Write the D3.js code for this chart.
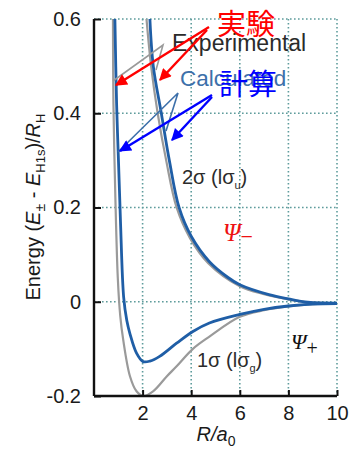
<!DOCTYPE html>
<html>
<head>
<meta charset="utf-8">
<script src="https://cdn.jsdelivr.net/npm/d3@7"></script>
<style>
  body { margin: 0; background: #fff; }
  svg { display: block; font-family: "Liberation Sans", Arial, sans-serif; }
</style>
</head>
<body>
<svg id="chart" width="360" height="454"></svg>
<script>
// values: R in a0, energy in units of R_H
const calcBondR = [0.86, 0.93, 1.0, 1.09, 1.22, 1.35, 1.48, 1.75, 2.02, 2.3, 2.7, 3.4, 4.07, 4.75, 6, 7, 8, 9, 10]
const calcBondE = [0.6, 0.42, 0.31, 0.17, 0.01, -0.04, -0.068, -0.109, -0.127, -0.126, -0.116, -0.088, -0.063, -0.045, -0.027, -0.016, -0.009, -0.005, -0.004]
const expBondR = [0.78, 0.8, 0.88, 0.98, 1.08, 1.2, 1.48, 1.75, 2.02, 2.43, 3.0, 3.4, 4.07, 4.75, 6, 7, 8, 9, 10]
const expBondE = [0.6, 0.42, 0.22, 0.05, -0.03, -0.08, -0.158, -0.19, -0.2, -0.19, -0.158, -0.137, -0.1, -0.074, -0.032, -0.018, -0.01, -0.005, -0.004]
const calcAntiR = [2.3, 2.44, 2.77, 3.1, 3.5, 4.0, 4.75, 5.5, 6, 7.2, 8, 8.8, 10]
const calcAntiE = [0.6, 0.5, 0.4, 0.3, 0.2, 0.139, 0.085, 0.052, 0.036, 0.015, 0.006, -0.001, -0.003]
const expAntiR = [2.16, 2.35, 2.62, 2.97, 3.4, 3.95, 4.7, 6, 7, 8, 8.8, 10]
const expAntiE = [0.6, 0.5, 0.4, 0.3, 0.2, 0.135, 0.082, 0.033, 0.016, 0.005, -0.001, -0.003]

const xTicks = [2, 4, 6, 8, 10]
const yTicks = [-0.2, 0, 0.2, 0.4, 0.6]
const yTickLabels = ['-0.2', '0', '0.2', '0.4', '0.6']

const svg = d3.select('#chart')
const x = d3.scaleLinear().domain([0, 10]).range([94, 337])
const y = d3.scaleLinear().domain([-0.2, 0.6]).range([396, 19])

const BLUE = '#1f5ea6'
const GRAY = '#9a9a9a'
const GRID = '#5e9c9c'

// clip for the curves
svg.append('defs').append('clipPath').attr('id', 'plot-clip')
  .append('rect')
  .attr('x', x(0)).attr('y', y(0.6))
  .attr('width', x(10) - x(0)).attr('height', y(-0.2) - y(0.6) + 2)

// dotted grid
const grid = svg.append('g').attr('class', 'grid')
grid.selectAll('line.v').data(xTicks).join('line')
  .attr('x1', d => x(d)).attr('x2', d => x(d))
  .attr('y1', y(0.6)).attr('y2', y(-0.2))
grid.selectAll('line.h').data([0, 0.2, 0.4, 0.6]).join('line')
  .attr('x1', x(0)).attr('x2', x(10))
  .attr('y1', d => y(d)).attr('y2', d => y(d))
grid.selectAll('line')
  .attr('stroke', GRID).attr('stroke-width', 1.6).attr('stroke-dasharray', '1.6,2.4')

// curves
const line = d3.line().x(d => x(d[0])).y(d => y(d[1])).curve(d3.curveCatmullRom.alpha(0.5))
const curves = svg.append('g').attr('clip-path', 'url(#plot-clip)')
const series = [
  { r: expBondR, e: expBondE, color: GRAY, w: 2.2 },
  { r: expAntiR, e: expAntiE, color: GRAY, w: 2.2 },
  { r: calcBondR, e: calcBondE, color: BLUE, w: 2.8 },
  { r: calcAntiR, e: calcAntiE, color: BLUE, w: 2.8 },
]
curves.selectAll('path').data(series).join('path')
  .attr('d', s => line(s.r.map((r, i) => [r, s.e[i]])))
  .attr('fill', 'none')
  .attr('stroke', s => s.color)
  .attr('stroke-width', s => s.w)
  .attr('stroke-linejoin', 'round')

// axes: ticks point inward
const yAxis = svg.append('g').attr('transform', `translate(${x(0)},0)`)
  .call(d3.axisLeft(y).tickValues(yTicks).tickSize(-7).tickPadding(13)
    .tickFormat((d, i) => yTickLabels[i]))
const xAxis = svg.append('g').attr('transform', `translate(0,${y(-0.2)})`)
  .call(d3.axisBottom(x).tickValues(xTicks).tickSize(-6).tickPadding(10))
for (const ax of [xAxis, yAxis]) {
  ax.select('.domain').attr('stroke', '#111').attr('stroke-width', 2.4)
  ax.selectAll('.tick line').attr('stroke', '#111').attr('stroke-width', 2)
  ax.selectAll('.tick text')
    .attr('fill', '#1a1a1a')
    .attr('font-size', 20)
    .attr('font-family', '"Liberation Sans", Arial, sans-serif')
}
yAxis.select('.domain').attr('d', `M0,${y(0.6)}V${y(-0.2)}`)
xAxis.select('.domain').attr('d', `M${x(0)},0H${x(10)}`)
xAxis.selectAll('.tick text').attr('dy', '0.71em')

// axis titles
const yTitle = svg.append('text')
  .attr('transform', 'translate(40,207) rotate(-90)')
  .attr('text-anchor', 'middle')
  .attr('font-size', 20)
  .attr('fill', '#1a1a1a')
yTitle.append('tspan').text('Energy (')
yTitle.append('tspan').attr('font-style', 'italic').text('E')
yTitle.append('tspan').attr('font-size', 14).attr('dy', 5).text('±')
yTitle.append('tspan').attr('dy', -5).text(' - ')
yTitle.append('tspan').attr('font-style', 'italic').text('E')
yTitle.append('tspan').attr('font-size', 13).attr('dy', 5).text('H1s')
yTitle.append('tspan').attr('dy', -5).text(')/')
yTitle.append('tspan').attr('font-style', 'italic').text('R')
yTitle.append('tspan').attr('font-size', 13).attr('dy', 5).text('H')

const xTitle = svg.append('text')
  .attr('x', 216).attr('y', 441)
  .attr('text-anchor', 'middle')
  .attr('font-size', 20)
  .attr('fill', '#1a1a1a')
xTitle.append('tspan').attr('font-style', 'italic').text('R/a')
xTitle.append('tspan').attr('font-size', 14).attr('dy', 5).text('0')

// leader lines from the legend words
const leaders = svg.append('g').attr('fill', 'none').attr('stroke-width', 1.6)
leaders.append('path').attr('d', 'M113,81L163,45L156,70').attr('stroke', GRAY)
leaders.append('path').attr('d', 'M118,152L178,93L166,131').attr('stroke', '#3d70aa')

// curve labels
const label = (tx, ty, size, color, parts, family) => {
  const t = svg.append('text').attr('x', tx).attr('y', ty)
    .attr('font-size', size).attr('fill', color)
  if (family) t.attr('font-family', family)
  parts.forEach(p => {
    const s = t.append('tspan').text(p.t)
    if (p.size) s.attr('font-size', p.size)
    if (p.dy) s.attr('dy', p.dy)
    if (p.italic) s.attr('font-style', 'italic')
  })
  return t
}
label(172, 51, 23, '#2b2b2b', [{ t: 'Experimental' }])
label(180, 86, 22.5, '#3d70aa', [{ t: 'Calculated' }])
label(182, 184, 20, '#2b2b2b', [{ t: '2σ (lσ' }, { t: 'u', size: 11, dy: 5 }, { t: ')', dy: -5 }])
label(197, 367, 20, '#2b2b2b', [{ t: '1σ (lσ' }, { t: 'g', size: 11, dy: 5 }, { t: ')', dy: -5 }])
label(223, 241, 25, '#ee1111', [{ t: 'Ψ', italic: true }, { t: '−', size: 22, dy: 3 }], '"Liberation Serif", "DejaVu Serif", serif')
label(291, 349, 22, '#111', [{ t: 'Ψ', italic: true }, { t: '+', size: 20, dy: 6 }], '"Liberation Serif", "DejaVu Serif", serif')

// Japanese words
svg.append('text').attr('x', 217).attr('y', 35)
  .attr('font-size', 29).attr('fill', '#ff0000')
  .attr('font-family', '"Noto Sans CJK JP", sans-serif')
  .text('実験')
svg.append('text').attr('x', 219).attr('y', 95)
  .attr('font-size', 29).attr('fill', '#0000ff')
  .attr('font-family', '"Noto Sans CJK JP", sans-serif')
  .text('計算')

// arrows
const defs = svg.select('defs')
const marker = (id, color) => defs.append('marker')
  .attr('id', id).attr('viewBox', '0 0 10 10')
  .attr('refX', 9).attr('refY', 5)
  .attr('markerWidth', 6).attr('markerHeight', 5)
  .attr('markerUnits', 'strokeWidth')
  .attr('orient', 'auto')
  .append('path').attr('d', 'M0,0L10,5L0,10Z').attr('fill', color)
marker('arrow-red', '#ff0000')
marker('arrow-blue', '#0000ff')

const arrows = [
  { from: [209, 27], to: [116, 85], color: '#ff0000', m: 'arrow-red' },
  { from: [207, 30], to: [160, 80], color: '#ff0000', m: 'arrow-red' },
  { from: [212, 95], to: [120, 151], color: '#0000ff', m: 'arrow-blue' },
  { from: [212, 97], to: [172, 140], color: '#0000ff', m: 'arrow-blue' },
]
svg.append('g').selectAll('line').data(arrows).join('line')
  .attr('x1', d => d.from[0]).attr('y1', d => d.from[1])
  .attr('x2', d => d.to[0]).attr('y2', d => d.to[1])
  .attr('stroke', d => d.color)
  .attr('stroke-width', 2.4)
  .attr('marker-end', d => `url(#${d.m})`)
</script>
</body>
</html>
